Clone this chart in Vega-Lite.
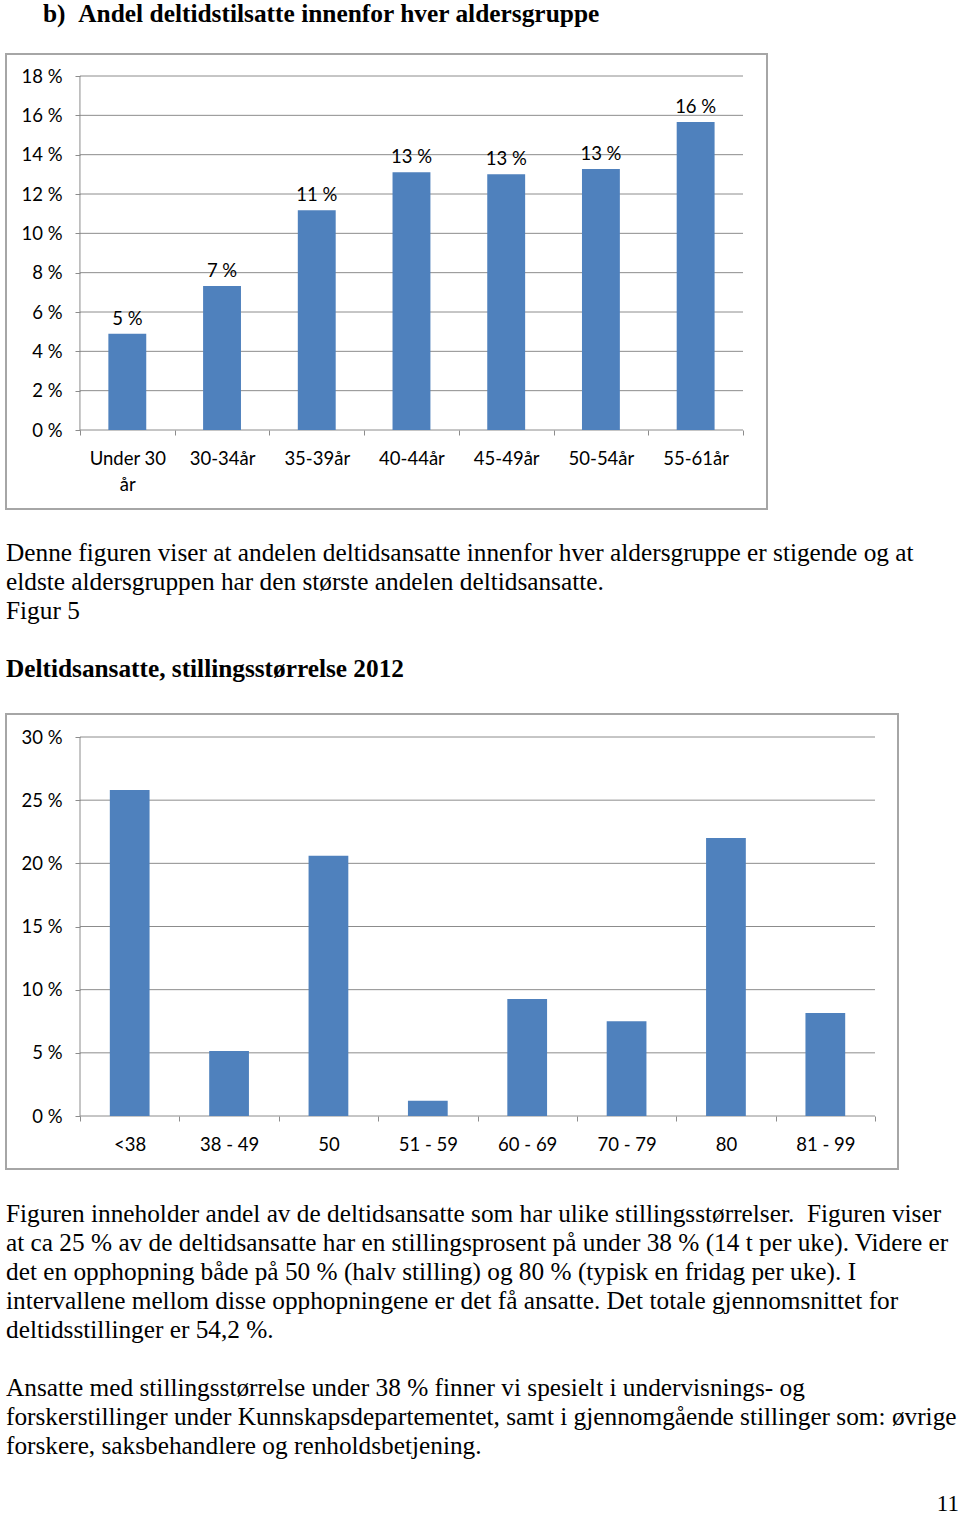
{
  "$schema": "https://vega.github.io/schema/vega-lite/v6.json",
  "padding": {"left": 5, "top": 0, "right": 0, "bottom": 0},
  "spacing": 0,
  "background": "white",
  "config": {
    "locale": {"number": {"decimal": ",", "thousands": "\u00a0", "grouping": [3], "currency": ["kr\u00a0", ""], "percent": "\u00a0%"}},
    "view": {"stroke": "#a6a6a6", "strokeWidth": 2},
    "axis": {"labelFont": "Lato", "labelFontSize": 18.5, "labelColor": "#000000", "tickColor": "#8c8c8c", "tickSize": 5, "domain": false, "grid": false}
  },
  "datasets": {
    "alder": [
      {"gruppe": "Under 30 år", "andel": 0.049},
      {"gruppe": "30-34år", "andel": 0.0732},
      {"gruppe": "35-39år", "andel": 0.1118},
      {"gruppe": "40-44år", "andel": 0.131},
      {"gruppe": "45-49år", "andel": 0.130},
      {"gruppe": "50-54år", "andel": 0.1327},
      {"gruppe": "55-61år", "andel": 0.1566}
    ],
    "alderTicks": [{"v": 0}, {"v": 0.02}, {"v": 0.04}, {"v": 0.06}, {"v": 0.08}, {"v": 0.10}, {"v": 0.12}, {"v": 0.14}, {"v": 0.16}, {"v": 0.18}],
    "stilling": [
      {"storrelse": "<38", "andel": 0.258},
      {"storrelse": "38 - 49", "andel": 0.0515},
      {"storrelse": "50", "andel": 0.206},
      {"storrelse": "51 - 59", "andel": 0.012},
      {"storrelse": "60 - 69", "andel": 0.0926},
      {"storrelse": "70 - 79", "andel": 0.075},
      {"storrelse": "80", "andel": 0.22},
      {"storrelse": "81 - 99", "andel": 0.0815}
    ],
    "stillingTicks": [{"v": 0}, {"v": 0.05}, {"v": 0.10}, {"v": 0.15}, {"v": 0.20}, {"v": 0.25}, {"v": 0.30}],
    "avsnitt1": [
      {"linje": 1, "tekst": "Denne figuren viser at andelen deltidsansatte innenfor hver aldersgruppe er stigende og at"},
      {"linje": 2, "tekst": "eldste aldersgruppen har den største andelen deltidsansatte."},
      {"linje": 3, "tekst": "Figur 5"}
    ],
    "overskrift": [
      {"linje": 5, "tekst": "Deltidsansatte, stillingsstørrelse 2012"}
    ],
    "avsnitt2": [
      {"linje": 1, "tekst": "Figuren inneholder andel av de deltidsansatte som har ulike stillingsstørrelser.\u00a0 Figuren viser"},
      {"linje": 2, "tekst": "at ca 25 % av de deltidsansatte har en stillingsprosent på under 38 % (14 t per uke). Videre er"},
      {"linje": 3, "tekst": "det en opphopning både på 50 % (halv stilling) og 80 % (typisk en fridag per uke). I"},
      {"linje": 4, "tekst": "intervallene mellom disse opphopningene er det få ansatte. Det totale gjennomsnittet for"},
      {"linje": 5, "tekst": "deltidsstillinger er 54,2 %."},
      {"linje": 7, "tekst": "Ansatte med stillingsstørrelse under 38 % finner vi spesielt i undervisnings- og"},
      {"linje": 8, "tekst": "forskerstillinger under Kunnskapsdepartementet, samt i gjennomgående stillinger som: øvrige"},
      {"linje": 9, "tekst": "forskere, saksbehandlere og renholdsbetjening."}
    ],
    "side": [
      {"linje": 11, "tekst": "11"}
    ]
  },
  "vconcat": [
    {
      "width": 761,
      "height": 455,
      "title": {"text": "b)\u00a0\u00a0Andel deltidstilsatte innenfor hver aldersgruppe", "anchor": "start", "dx": 37, "font": "Liberation Serif", "fontSize": 25.4, "fontWeight": "bold", "color": "#000000", "offset": 27, "baseline": "top"},
      "layer": [
        {
          "data": {"name": "alderTicks"},
          "mark": {"type": "rule", "color": "#8c8c8c", "strokeWidth": 1},
          "encoding": {
            "y": {"field": "v", "type": "quantitative", "scale": {"domain": [-0.04017, 0.19119], "nice": false, "zero": false}, "axis": {"orient": "left", "offset": -74, "values": [0, 0.02, 0.04, 0.06, 0.08, 0.10, 0.12, 0.14, 0.16, 0.18], "format": ".0%", "labelPadding": 13, "title": null}},
            "x": {"datum": "Under 30 år", "bandPosition": 0, "type": "nominal", "scale": {"domain": ["Under 30 år", "30-34år", "35-39år", "40-44år", "45-49år", "50-54år", "55-61år"], "paddingInner": 0, "paddingOuter": 0.517, "align": 0.755}, "axis": {"orient": "bottom", "offset": -79, "tickBand": "extent", "labelAngle": 0, "labelPadding": 14, "labelLineHeight": 26, "labelExpr": "datum.label == 'Under 30 år' ? ['Under 30', 'år'] : datum.label", "title": null}},
            "x2": {"datum": "55-61år", "bandPosition": 1}
          }
        },
        {
          "data": {"values": [{"akse": "y"}]},
          "mark": {"type": "rule", "color": "#8c8c8c", "strokeWidth": 1},
          "encoding": {
            "x": {"datum": "Under 30 år", "bandPosition": 0, "type": "nominal", "axis": {"orient": "bottom", "offset": -79, "tickBand": "extent", "labelAngle": 0, "labelPadding": 14, "labelLineHeight": 26, "labelExpr": "datum.label == 'Under 30 år' ? ['Under 30', 'år'] : datum.label", "title": null}},
            "y": {"datum": 0, "type": "quantitative", "axis": {"orient": "left", "offset": -74, "values": [0, 0.02, 0.04, 0.06, 0.08, 0.10, 0.12, 0.14, 0.16, 0.18], "format": ".0%", "labelPadding": 13, "title": null}},
            "y2": {"datum": 0.18}
          }
        },
        {
          "data": {"name": "alder"},
          "mark": {"type": "bar", "color": "#4f81bd", "width": {"band": 0.4}},
          "encoding": {
            "x": {"field": "gruppe", "type": "nominal", "sort": null, "axis": {"orient": "bottom", "offset": -79, "tickBand": "extent", "labelAngle": 0, "labelPadding": 14, "labelLineHeight": 26, "labelExpr": "datum.label == 'Under 30 år' ? ['Under 30', 'år'] : datum.label", "title": null}},
            "y": {"field": "andel", "type": "quantitative", "scale": {"domain": [-0.04017, 0.19119], "nice": false, "zero": false}, "axis": {"orient": "left", "offset": -74, "values": [0, 0.02, 0.04, 0.06, 0.08, 0.10, 0.12, 0.14, 0.16, 0.18], "format": ".0%", "labelPadding": 13, "title": null}},
            "y2": {"datum": 0}
          }
        },
        {
          "data": {"name": "alder"},
          "mark": {"type": "text", "font": "Lato", "fontSize": 18.5, "color": "#000000", "baseline": "alphabetic", "dy": -9},
          "encoding": {
            "x": {"field": "gruppe", "type": "nominal", "sort": null, "axis": {"orient": "bottom", "offset": -79, "tickBand": "extent", "labelAngle": 0, "labelPadding": 14, "labelLineHeight": 26, "labelExpr": "datum.label == 'Under 30 år' ? ['Under 30', 'år'] : datum.label", "title": null}},
            "y": {"field": "andel", "type": "quantitative", "axis": {"orient": "left", "offset": -74, "values": [0, 0.02, 0.04, 0.06, 0.08, 0.10, 0.12, 0.14, 0.16, 0.18], "format": ".0%", "labelPadding": 13, "title": null}},
            "text": {"field": "andel", "type": "quantitative", "format": ".0%"}
          }
        }
      ]
    },
    {
      "width": 900,
      "height": 203,
      "view": {"stroke": null},
      "encoding": {
        "y": {"field": "linje", "type": "quantitative", "scale": {"domain": [-0.4828, 6.5172], "reverse": true, "nice": false, "zero": false}, "axis": null},
        "x": {"datum": 0, "type": "quantitative", "scale": {"domain": [0, 1]}, "axis": null},
        "text": {"field": "tekst", "type": "nominal"}
      },
      "layer": [
        {"data": {"name": "avsnitt1"}, "mark": {"type": "text", "align": "left", "baseline": "middle", "font": "Liberation Serif", "fontSize": 25.3, "color": "#000000"}},
        {"data": {"name": "overskrift"}, "mark": {"type": "text", "align": "left", "baseline": "middle", "font": "Liberation Serif", "fontSize": 25.3, "fontWeight": "bold", "color": "#000000"}}
      ]
    },
    {
      "width": 892,
      "height": 455,
      "layer": [
        {
          "data": {"name": "stillingTicks"},
          "mark": {"type": "rule", "color": "#8c8c8c", "strokeWidth": 1},
          "encoding": {
            "y": {"field": "v", "type": "quantitative", "scale": {"domain": [-0.04195, 0.31821], "nice": false, "zero": false}, "axis": {"orient": "left", "offset": -74, "values": [0, 0.05, 0.10, 0.15, 0.20, 0.25, 0.30], "format": ".0%", "labelPadding": 13, "title": null}},
            "x": {"datum": "<38", "bandPosition": 0, "type": "nominal", "scale": {"domain": ["<38", "38 - 49", "50", "51 - 59", "60 - 69", "70 - 79", "80", "81 - 99"], "paddingInner": 0, "paddingOuter": 0.488, "align": 0.763}, "axis": {"orient": "bottom", "offset": -53, "tickBand": "extent", "labelAngle": 0, "labelPadding": 14, "title": null}},
            "x2": {"datum": "81 - 99", "bandPosition": 1}
          }
        },
        {
          "data": {"values": [{"akse": "y"}]},
          "mark": {"type": "rule", "color": "#8c8c8c", "strokeWidth": 1},
          "encoding": {
            "x": {"datum": "<38", "bandPosition": 0, "type": "nominal", "axis": {"orient": "bottom", "offset": -53, "tickBand": "extent", "labelAngle": 0, "labelPadding": 14, "title": null}},
            "y": {"datum": 0, "type": "quantitative", "axis": {"orient": "left", "offset": -74, "values": [0, 0.05, 0.10, 0.15, 0.20, 0.25, 0.30], "format": ".0%", "labelPadding": 13, "title": null}},
            "y2": {"datum": 0.30}
          }
        },
        {
          "data": {"name": "stilling"},
          "mark": {"type": "bar", "color": "#4f81bd", "width": {"band": 0.4}},
          "encoding": {
            "x": {"field": "storrelse", "type": "nominal", "sort": null, "axis": {"orient": "bottom", "offset": -53, "tickBand": "extent", "labelAngle": 0, "labelPadding": 14, "title": null}},
            "y": {"field": "andel", "type": "quantitative", "scale": {"domain": [-0.04195, 0.31821], "nice": false, "zero": false}, "axis": {"orient": "left", "offset": -74, "values": [0, 0.05, 0.10, 0.15, 0.20, 0.25, 0.30], "format": ".0%", "labelPadding": 13, "title": null}},
            "y2": {"datum": 0}
          }
        }
      ]
    },
    {
      "width": 953,
      "height": 340,
      "view": {"stroke": null},
      "encoding": {
        "y": {"field": "linje", "type": "ordinal", "scale": {"type": "point", "domain": [1, 2, 3, 4, 5, 6, 7, 8, 9, 10, 11], "padding": 0.862, "align": 0.88}, "axis": null},
        "text": {"field": "tekst", "type": "nominal"}
      },
      "layer": [
        {"data": {"name": "avsnitt2"}, "mark": {"type": "text", "align": "left", "baseline": "middle", "font": "Liberation Serif", "fontSize": 25.3, "color": "#000000"},
         "encoding": {"x": {"datum": 0, "type": "quantitative", "scale": {"domain": [0, 1]}, "axis": null}}},
        {"data": {"name": "side"}, "mark": {"type": "text", "align": "right", "baseline": "middle", "font": "Liberation Serif", "fontSize": 23, "color": "#000000"},
         "encoding": {"x": {"datum": 1, "type": "quantitative", "scale": {"domain": [0, 1]}, "axis": null}}}
      ]
    }
  ]
}
